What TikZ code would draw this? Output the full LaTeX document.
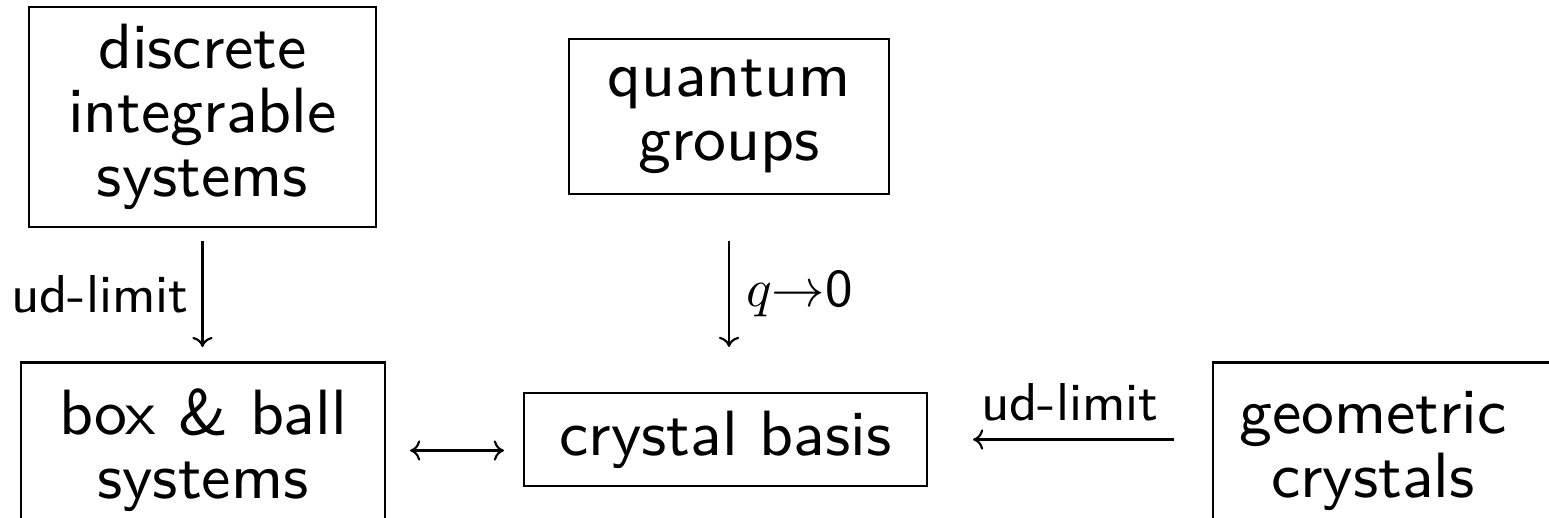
\documentclass[tikz,border=0pt]{standalone}
\usetikzlibrary{arrows.meta}
\font\mainsf="[lmsans9-regular.otf]:mapping=tex-text" at 12pt
\font\lblsf="[lmsans9-regular.otf]:mapping=tex-text" at 10pt
\newcommand\pxu{0.1875pt}
\tikzset{
  every picture/.style={x=0.1875pt,y=0.1875pt},
  boxnode/.style={draw, line width=0.4pt, inner sep=0pt, align=center,
    font=\sffamily\fontsize{12}{12}\selectfont\mainsf},
  txtnode/.style={inner sep=0pt, align=center,
    font=\sffamily\fontsize{12}{12}\selectfont\mainsf},
  lbl/.style={font=\sffamily\fontsize{10}{12}\selectfont\lblsf},
  cmarrow/.style={line width=0.4pt,
    -{Computer Modern Rightarrow[length=1.9pt,width=3.8pt]}},
  cmdouble/.style={line width=0.4pt,
    {Computer Modern Rightarrow[length=1.9pt,width=3.8pt]}-{Computer Modern Rightarrow[length=1.9pt,width=3.8pt]}}
}
\begin{document}
\begin{tikzpicture}
\clip (0,0) rectangle (1549,517);
% nodes
\node[boxnode, minimum width=347*\pxu, minimum height=220*\pxu] (DIS) at (202.5,400) {discrete\\integrable\\systems};
\node[boxnode, minimum width=320*\pxu, minimum height=155*\pxu] (QG) at (729,400.5) {quantum\\groups};
\node[boxnode, minimum width=364*\pxu, minimum height=176*\pxu] (BB) at (203,66.5) {box \& ball\\systems};
\node[boxnode, minimum width=403*\pxu, minimum height=93*\pxu] (CB) at (725.5,77.5) {crystal basis};
\node[boxnode, minimum width=400*\pxu, minimum height=176*\pxu] (GC) at (1413,66.5) {};
\node[txtnode] (GCtext) at (1373,66.5) {geometric\\crystals};
% connectors
\draw[cmarrow, shorten <=2.44pt, shorten >=2.7pt] (DIS.south) -- (DIS.south |- BB.north)
  node[midway, left, lbl, inner sep=2.4pt] {ud-limit};
\draw[cmarrow, shorten <=8.62pt, shorten >=8.44pt] (QG.south) -- (QG.south |- CB.north)
  node[midway, right, lbl, inner sep=3pt] {{$q$}{$\to$}0};
\draw[cmdouble, shorten <=4.5pt, shorten >=3.56pt] (BB.east) -- (BB.east -| CB.west);
\draw[cmarrow, shorten <=7.12pt, shorten >=8.44pt] (GC.west |- CB.east) -- (CB.east)
  node[midway, above, lbl, inner sep=3.2pt] {ud-limit};
\end{tikzpicture}
\end{document}
